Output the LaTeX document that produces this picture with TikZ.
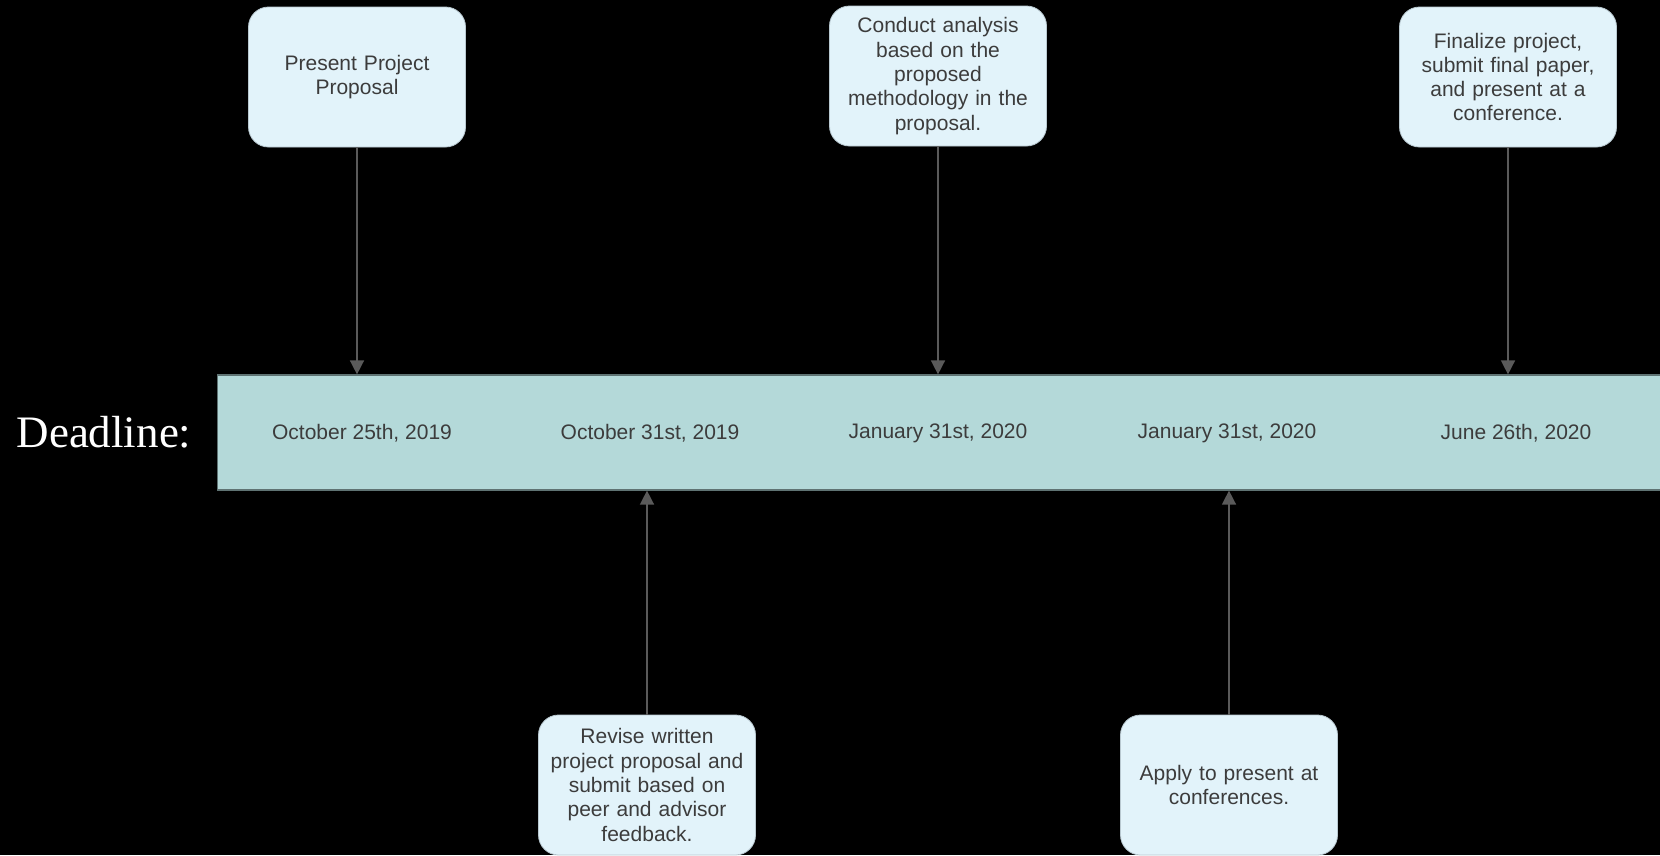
\documentclass[tikz,border=0pt]{standalone}
\usepackage{fontspec}
\setmainfont{Liberation Sans}
\newfontfamily\serifface{Liberation Serif}
\usetikzlibrary{
  shapes,
  calc,
  positioning,
  arrows.meta
}
\definecolor{boxfill}{HTML}{E2F3FA}
\definecolor{boxline}{HTML}{B8C8D0}
\definecolor{bandfill}{HTML}{B4D9D9}
\definecolor{bandline}{HTML}{5F7373}
\definecolor{txt}{HTML}{3C3C3C}
\definecolor{arrowgray}{HTML}{5A5A5A}
\tikzset{
  task/.style = {rectangle, rounded corners = 20pt, fill = boxfill, draw = boxline,
    line width = 0.8pt, minimum width = 217pt, minimum height = 140pt,
    text width = 196pt, align = center, text = txt,
    font = \fontsize{21pt}{24.3pt}\selectfont},
  date/.style = {text = txt, font = \fontsize{21pt}{24pt}\selectfont},
  link/.style = {->, draw = arrowgray, line width = 1.5pt}
}

\begin{document}
\begin{tikzpicture}[x = 1pt, y = -1pt, >={Triangle[length=14pt,width=14pt]}]
    \fill[black] (0,0) rectangle (1660,855);
    \useasboundingbox (0,0) rectangle (1660,855);

    \node[rectangle, fill = bandfill, draw = bandline, line width = 1.2pt,
      minimum width = 1460pt, minimum height = 115pt, anchor = west] (band) at (217,432.5) {};
    \node[text = white, font = \serifface\fontsize{45pt}{50pt}\selectfont] (dl) at (104,432) {Deadline:};

    \node[date] (d1) at (362,433) {October 25th, 2019};
    \node[date] (d2) at (650,433) {October 31st, 2019};
    \node[date] (d3) at (938,433) {January 31st, 2020};
    \node[date] (d4) at (1227,433) {January 31st, 2020};
    \node[date] (d5) at (1516,433) {June 26th, 2020};

    \node[task] (1) at (357,77) {Present Project\\Proposal};
    \node[task] (3) at (938,76) {Conduct analysis\\based on the\\proposed\\methodology in the\\proposal.};
    \node[task] (5) at (1508,77) {Finalize project,\\submit final paper,\\and present at a\\conference.};
    \node[task] (2) at (647,785) {Revise written\\project proposal and\\submit based on\\peer and advisor\\feedback.};
    \node[task] (4) at (1229,785) {Apply to present at\\conferences.};

    \draw[link] (1.south) -- (1.south |- band.north);
    \draw[link] (3.south) -- (3.south |- band.north);
    \draw[link] (5.south) -- (5.south |- band.north);
    \draw[link] (2.north) -- (2.north |- band.south);
    \draw[link] (4.north) -- (4.north |- band.south);
  \end{tikzpicture}
\end{document}
